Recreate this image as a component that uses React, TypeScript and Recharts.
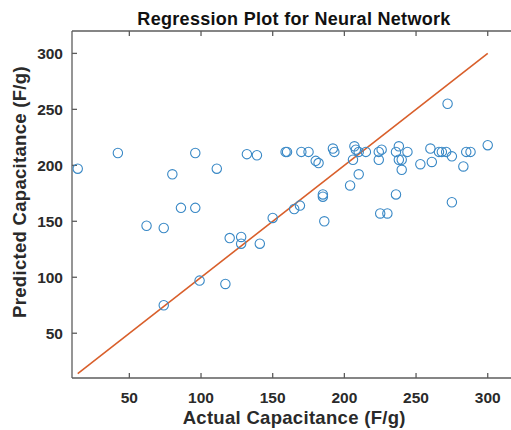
import { ScatterChart, Scatter, XAxis, YAxis, ReferenceLine } from "recharts";

// actual vs. predicted capacitance, F/g
const actual = [
  14, 42, 62, 74, 74, 80, 86, 96, 96, 99, 111, 117, 120, 128, 128, 132, 139, 141, 150, 159,
  160, 165, 169, 170, 175, 180, 182, 185, 185, 186, 192, 193, 204, 206, 207, 208, 210, 210,
  215, 224, 226, 224, 225, 230, 236, 236, 238, 238, 240, 240, 244, 253, 260, 261, 266, 268,
  271, 272, 275, 275, 283, 285, 288, 300,
];
const predicted = [
  197, 211, 146, 144, 75, 192, 162, 211, 162, 97, 197, 94, 135, 136, 130, 210, 209, 130, 153, 212,
  212, 161, 164, 212, 212, 204, 202, 172, 174, 150, 215, 212, 182, 205, 217, 214, 212, 192,
  212, 212, 214, 205, 157, 157, 212, 174, 217, 205, 205, 196, 212, 201, 215, 203, 212, 212,
  212, 255, 208, 167, 199, 212, 212, 218,
];

// ideal fit y = x
const fitX = [14, 300];
const fitY = [14, 300];

const ticks = [50, 100, 150, 200, 250, 300];
const domain: [number, number] = [10, 320];

const FONT = "'Liberation Sans', Arial, sans-serif";
const AXIS = "#5c5c5c";
const TEXT = "#2a2a2a";

const points = actual.map((a, i) => ({ x: a, y: predicted[i] }));

const Ring = (props: any) => (
  <circle cx={props.cx} cy={props.cy} r={4.7} fill="none" stroke="#3a89c6" strokeWidth={1.1} />
);

const tickStyle = { fontFamily: FONT, fontSize: 15.5, fontWeight: 700, fill: TEXT };
const labelStyle = { fontFamily: FONT, fontSize: 18.5, fontWeight: 700, fill: TEXT, letterSpacing: 0.3 };

export default function App() {
  return (
    <div style={{ position: "absolute", left: 0, top: 0, width: 511, height: 430, overflow: "hidden", background: "#fff" }}>
      <ScatterChart width={530} height={430} margin={{ top: 30, right: 13.6, bottom: 0, left: 0 }}>
        <XAxis
          dataKey="x"
          type="number"
          domain={domain}
          ticks={ticks}
          allowDataOverflow
          height={52}
          stroke={AXIS}
          strokeWidth={1.3}
          tickSize={-5}
          tickMargin={19}
          tick={tickStyle}
          label={{
            value: "Actual Capacitance (F/g)",
            position: "insideBottom",
            offset: 5.7,
            style: labelStyle,
          }}
        />
        <XAxis
          xAxisId="top"
          orientation="top"
          dataKey="x"
          type="number"
          domain={domain}
          ticks={ticks}
          allowDataOverflow
          height={1}
          stroke={AXIS}
          strokeWidth={1.3}
          tickSize={-5}
          tickFormatter={() => ""}
        />
        <YAxis
          dataKey="y"
          type="number"
          domain={domain}
          ticks={ticks}
          allowDataOverflow
          width={72}
          stroke={AXIS}
          strokeWidth={1.3}
          tickSize={-5}
          tickMargin={14}
          tick={tickStyle}
          label={{
            content: () => (
              <text transform="translate(25.5,192) rotate(-90)" textAnchor="middle" style={labelStyle}>
                Predicted Capacitance (F/g)
              </text>
            ),
          }}
        />
        <ReferenceLine
          segment={[
            { x: fitX[0], y: fitY[0] },
            { x: fitX[1], y: fitY[1] },
          ]}
          stroke="#d95f2b"
          strokeWidth={1.6}
        />
        <Scatter data={points} shape={Ring} isAnimationActive={false} />
        <text
          x={294}
          y={24.5}
          textAnchor="middle"
          style={{ fontFamily: FONT, fontSize: 18, fontWeight: 700, fill: "#111", letterSpacing: 0.3 }}
        >
          Regression Plot for Neural Network
        </text>
      </ScatterChart>
    </div>
  );
}
